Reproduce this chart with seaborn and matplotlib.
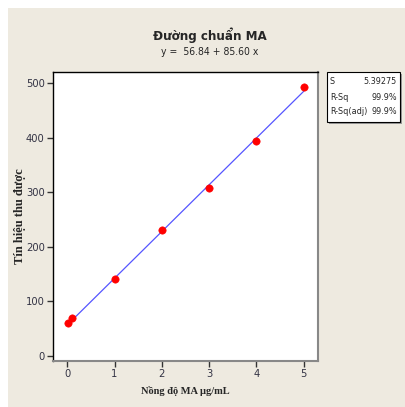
import numpy as np
import pandas as pd
import matplotlib
matplotlib.use('Agg')
import matplotlib.pyplot as plt
import seaborn as sns
from matplotlib.patches import Rectangle

# data
conc = [0.01, 0.1, 1, 2, 3, 4, 5]
signal = [60, 70, 142, 231, 307, 393, 492]
intercept = 56.84
slope = 85.60
stat_names = ['S', 'R-Sq', 'R-Sq(adj)']
stat_values = ['5.39275', '99.9%', '99.9%']
x_ticks = [0, 1, 2, 3, 4, 5]
y_ticks = [0, 100, 200, 300, 400, 500]

df = pd.DataFrame({'conc': conc, 'signal': signal})
fit = pd.DataFrame({'conc': [min(conc), max(conc)]})
fit['signal'] = intercept + slope * fit['conc']

sns.set_style('white')
serif = ['Liberation Serif', 'DejaVu Serif']
plt.rcParams['font.family'] = ['DejaVu Sans']
plt.rcParams['font.stretch'] = 'condensed'

W, H = 405, 407
bg = '#EEEAE0'
fig = plt.figure(figsize=(W / 100, H / 100), dpi=100)
fig.patch.set_facecolor(bg)
# white strips at top and left edge
fig.patches.append(Rectangle((0, 1 - 8 / H), 1, 8 / H, transform=fig.transFigure,
                             facecolor='white', edgecolor='none', zorder=-10))
fig.patches.append(Rectangle((0, 0), 8 / W, 1, transform=fig.transFigure,
                             facecolor='white', edgecolor='none', zorder=-10))

# axes box in pixel coords
L, R, T, B = 53, 318, 72, 361
ax = fig.add_axes([L / W, 1 - B / H, (R - L) / W, (B - T) / H])
ax.set_facecolor('white')

sns.lineplot(data=fit, x='conc', y='signal', color='#5555ff', lw=0.9, ax=ax)
sns.scatterplot(data=df, x='conc', y='signal', color='red', s=28, edgecolor='red', ax=ax, zorder=3)

ax.set_xlim(-0.3, 5.3)
ax.set_ylim(-9, 520)
ax.set_xticks(x_ticks)
ax.set_yticks(y_ticks)
ax.tick_params(direction='out', length=4, width=1, colors='#333333', labelsize=8,
               labelcolor='#333344', bottom=True, left=True, pad=2)
for s in ['top', 'left']:
    ax.spines[s].set_color('black')
    ax.spines[s].set_linewidth(1.0)
for s in ['right', 'bottom']:
    ax.spines[s].set_color('#888888')
    ax.spines[s].set_linewidth(1.5)

ax.set_xlabel('Nồng độ MA µg/mL', family=serif, fontweight='bold', fontsize=7.5)
ax.set_ylabel('Tín hiệu thu được', family=serif, fontweight='bold', fontsize=9)
ax.xaxis.set_label_coords(0.5, -(386 - B) / (B - T))
ax.yaxis.set_label_coords(-(L - 26) / (R - L), 0.5)

cx = 210 / W
fig.text(cx, 1 - 35 / H, 'Đường chuẩn MA', ha='center', va='center', fontsize=9.5,
         fontweight='bold')
fig.text(cx, 1 - 52 / H, 'y =  56.84 + 85.60 x', ha='center', va='center', fontsize=7.5)

# stats box
bx0, bx1, by0, by1 = 327, 400, 72, 122
fig.patches.append(Rectangle(((bx0 + 2) / W, 1 - (by1 + 2) / H), (bx1 - bx0) / W, (by1 - by0) / H,
                             transform=fig.transFigure, facecolor='#999999', edgecolor='none', zorder=1))
fig.patches.append(Rectangle((bx0 / W, 1 - by1 / H), (bx1 - bx0) / W, (by1 - by0) / H,
                             transform=fig.transFigure, facecolor='white', edgecolor='black',
                             lw=0.8, zorder=2))
for i, (n, v) in enumerate(zip(stat_names, stat_values)):
    yy = 1 - (82 + i * 15) / H
    fig.text((bx0 + 3) / W, yy, n, ha='left', va='center', fontsize=6.5, zorder=3)
    fig.text((bx1 - 3) / W, yy, v, ha='right', va='center', fontsize=6.5, zorder=3)

fig.savefig('out.png', dpi=100)
